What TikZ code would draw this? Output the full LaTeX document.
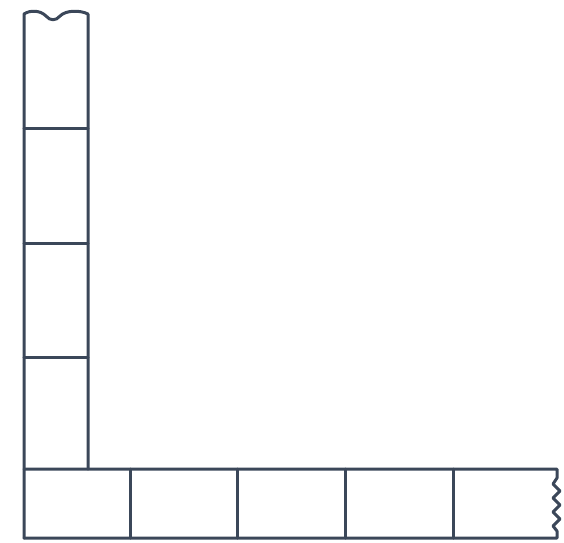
\documentclass[tikz,border=0pt]{standalone}
\begin{document}
\begin{tikzpicture}[x=1pt,y=-1pt,
  wall/.style={draw=wallc,line width=3pt,line join=round,line cap=round}]
\definecolor{wallc}{HTML}{3B4759}
\useasboundingbox (0,0) rectangle (564,542);
% vertical column
\draw[wall] (24,538) -- (24,14)
  .. controls (30,10) and (40,10) .. (46,16)
  .. controls (50,21) and (56,21) .. (60,16)
  .. controls (66,10) and (80,10) .. (88,14)
  -- (88,469);
\draw[wall] (24,128) -- (88,128);
\draw[wall] (24,243) -- (88,243);
\draw[wall] (24,357) -- (88,357);
% bottom row
\draw[wall] (24,469) -- (557,469) -- (557,478)
  -- (553,484) -- (560,491) -- (553,498) -- (560,505) -- (553,512)
  -- (560,519) -- (553,526) -- (557,531) -- (557,538) -- (24,538);
\draw[wall] (130,469) -- (130,538);
\draw[wall] (237,469) -- (237,538);
\draw[wall] (345,469) -- (345,538);
\draw[wall] (453,469) -- (453,538);
\end{tikzpicture}
\end{document}
